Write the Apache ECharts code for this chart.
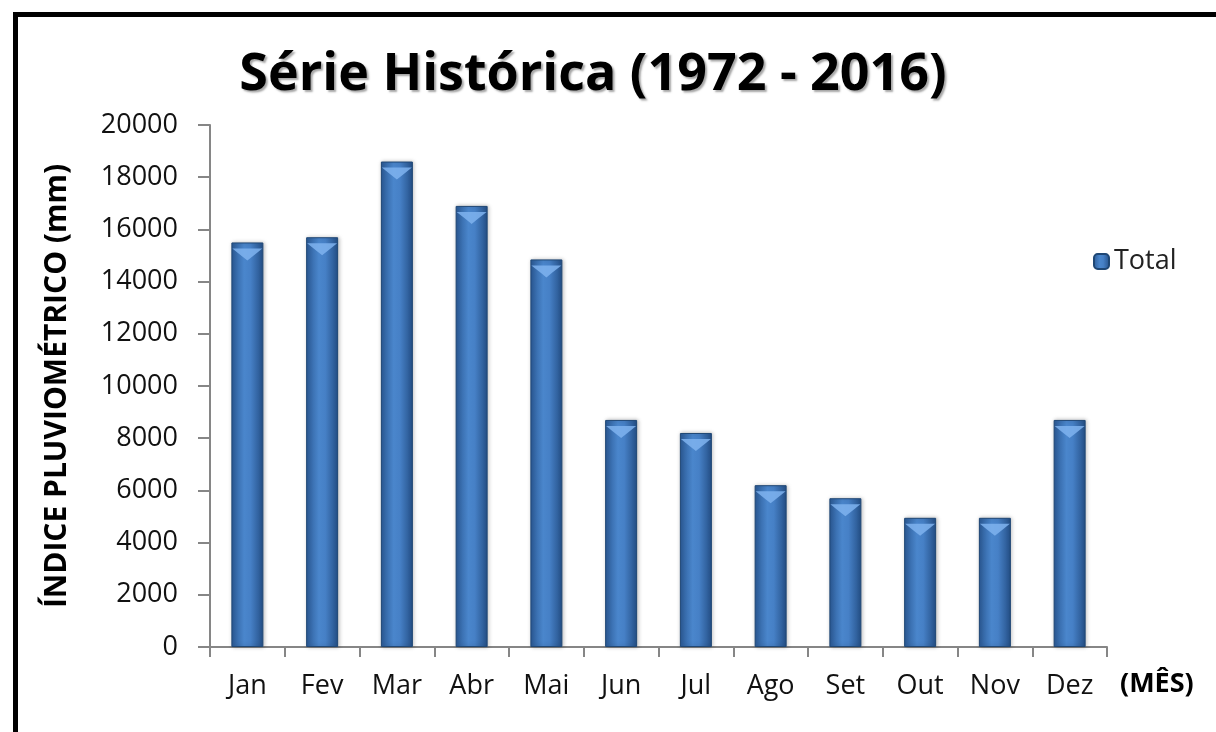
<!DOCTYPE html>
<html>
<head>
<meta charset="utf-8">
<script src="https://cdn.jsdelivr.net/npm/echarts@6/dist/echarts.min.js"></script>
<style>
  html, body { margin: 0; padding: 0; background: #fff; }
  #chart { width: 1216px; height: 732px; }
</style>
</head>
<body>
<div id="chart"></div>
<script>
const months = ['Jan', 'Fev', 'Mar', 'Abr', 'Mai', 'Jun', 'Jul', 'Ago', 'Set', 'Out', 'Nov', 'Dez'];
const totals = [15500, 15700, 18600, 16900, 14850, 8700, 8200, 6200, 5700, 4950, 4950, 8700];
const yTicks = [0, 20000, 2000]; // min, max, interval

const font = '"Open Sans", "Noto Sans", sans-serif';

const chart = echarts.init(document.getElementById('chart'));

// gradiente horizontal das barras (bordas escuras, centro claro)
const barFill = new echarts.graphic.LinearGradient(0, 0, 1, 0, [
  { offset: 0, color: '#2b5a96' },
  { offset: 0.4, color: '#4a86cc' },
  { offset: 0.6, color: '#4680c6' },
  { offset: 1, color: '#244f86' },
]);

chart.setOption({
  animation: false,
  title: {
    text: 'Série Histórica (1972 - 2016)',
    left: 588,
    top: 44,
    textAlign: 'center',
    textStyle: {
      fontFamily: font,
      fontSize: 52,
      fontWeight: 'bold',
      color: '#000',
      textShadowColor: 'rgba(0,0,0,0.35)',
      textShadowOffsetX: 2,
      textShadowOffsetY: 2,
      textShadowBlur: 2,
    },
  },
  legend: {
    data: ['Total'],
    left: 1088,
    top: 243,
    itemWidth: 15,
    itemHeight: 15,
    itemGap: 6,
    textStyle: { fontFamily: font, fontSize: 27, color: '#222' },
  },
  graphic: [
    {
      type: 'rect',
      shape: { x: 15.5, y: 14.5, width: 1400, height: 900 },
      style: { fill: 'none', stroke: '#000', lineWidth: 5 },
      silent: true,
    },
    {
      type: 'text',
      left: 1120,
      top: 671,
      style: { text: '(MÊS)', fontFamily: font, fontSize: 27, fontWeight: 'bold', fill: '#000' },
    },
  ],
  grid: { left: 210, top: 125, right: 109, bottom: 85 },
  xAxis: {
    type: 'category',
    data: months,
    axisLine: { lineStyle: { color: '#868686', width: 2 } },
    axisTick: { show: true, length: 10, lineStyle: { color: '#868686', width: 2 } },
    axisLabel: { fontFamily: font, fontSize: 27, color: '#111', margin: 26 },
  },
  yAxis: {
    type: 'value',
    min: yTicks[0],
    max: yTicks[1],
    interval: yTicks[2],
    name: 'ÍNDICE PLUVIOMÉTRICO (mm)',
    nameLocation: 'middle',
    nameGap: 138,
    nameTextStyle: { fontFamily: font, fontSize: 30, fontWeight: 'bold', color: '#000' },
    axisLine: { show: true, lineStyle: { color: '#868686', width: 2 } },
    axisTick: { show: true, length: 12, lineStyle: { color: '#868686', width: 2 } },
    splitLine: { show: false },
    axisLabel: {
      fontFamily: font,
      fontSize: 27,
      color: '#111',
      margin: 32,
      formatter: (v) => String(v),
    },
  },
  series: [
    {
      name: 'Total',
      type: 'bar',
      data: totals,
      barWidth: 32,
      itemStyle: {
        color: barFill,
        borderColor: '#1f4775',
        borderWidth: 1,
        shadowColor: 'rgba(0,0,0,0.25)',
        shadowBlur: 4,
        shadowOffsetX: 1,
      },
    },
    {
      // chanfro claro no topo de cada barra
      name: 'topo',
      type: 'pictorialBar',
      data: totals,
      symbol: 'path://M0,0 L10,0 L7,3 L5,5 L3,3 Z',
      symbolSize: [30, 12],
      symbolPosition: 'end',
      symbolOffset: [0, '50%'],
      z: 3,
      silent: true,
      itemStyle: { color: '#7fb3ee', opacity: 0.85 },
      legendHoverLink: false,
    },
  ],
});
</script>
</body>
</html>
